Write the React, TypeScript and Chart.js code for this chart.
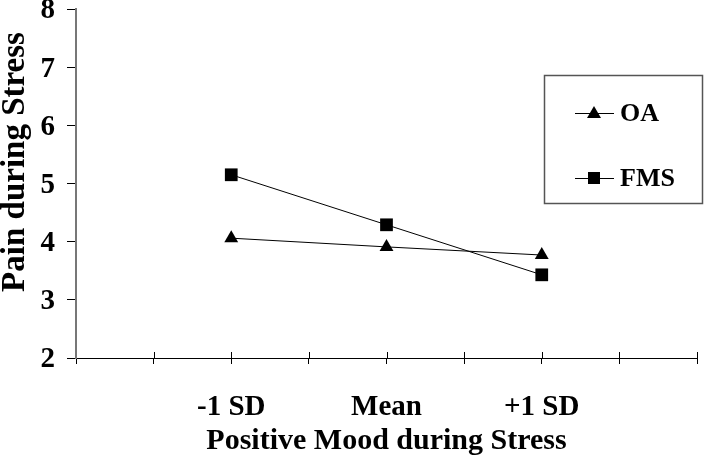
import React, { useEffect, useRef } from "react";
import { Chart, registerables } from "chart.js";

Chart.register(...registerables);

// Category positions on an 8-unit axis, with their labels
const categoryPositions = [2, 4, 6];
const categoryLabels = ["-1 SD", "Mean", "+1 SD"];

// Series values
const oaValues = [4.06, 3.91, 3.77];
const fmsValues = [5.15, 4.29, 3.43];

// Axis ranges / ticks
const yTicks = [2, 3, 4, 5, 6, 7, 8];
const xTickCount = 8;

const yTitle = "Pain during Stress";
const xTitle = "Positive Mood during Stress";

const SERIF = "'Liberation Serif', 'Times New Roman', serif";

const crossTicksPlugin = {
  id: "crossTicks",
  afterDatasetsDraw(chart: any) {
    const { ctx, scales } = chart;
    const x = scales.x;
    const yb = chart.chartArea.bottom;
    ctx.save();
    ctx.strokeStyle = "#000";
    ctx.lineWidth = 1;
    for (let v = 1; v <= xTickCount; v++) {
      const px = Math.round(x.getPixelForValue(v)) + 0.5;
      ctx.beginPath();
      ctx.moveTo(px, yb - 6);
      ctx.lineTo(px, yb);
      ctx.stroke();
    }
    ctx.restore();
  },
};

const yTitlePlugin = {
  id: "yTitle",
  afterDraw(chart: any) {
    const { ctx } = chart;
    ctx.save();
    ctx.translate(15, 162);
    ctx.rotate(-Math.PI / 2);
    ctx.font = `bold 33px ${SERIF}`;
    ctx.fillStyle = "#000";
    ctx.textAlign = "center";
    ctx.textBaseline = "middle";
    ctx.fillText(yTitle, 0, 0);
    ctx.restore();
  },
};

const boxLegendPlugin = {
  id: "boxLegend",
  afterDraw(chart: any) {
    const { ctx } = chart;
    ctx.save();
    ctx.strokeStyle = "#555";
    ctx.lineWidth = 1.5;
    ctx.strokeRect(544.5, 75.5, 158, 128);
    const rows = [113, 178];
    chart.data.datasets.forEach((ds: any, i: number) => {
      const y = rows[i];
      ctx.strokeStyle = "#000";
      ctx.lineWidth = 1;
      ctx.beginPath();
      ctx.moveTo(575, y + 0.5);
      ctx.lineTo(614, y + 0.5);
      ctx.stroke();
      ctx.fillStyle = "#000";
      if (ds.pointStyle === "triangle") {
        ctx.beginPath();
        ctx.moveTo(594, y - 7);
        ctx.lineTo(601, y + 5);
        ctx.lineTo(587, y + 5);
        ctx.closePath();
        ctx.fill();
      } else {
        ctx.fillRect(588, y - 6, 12, 12);
      }
      ctx.font = `bold 26px ${SERIF}`;
      ctx.textBaseline = "middle";
      ctx.textAlign = "left";
      ctx.fillText(ds.label, 620, y + 1);
    });
    ctx.restore();
  },
};

export default function App() {
  const ref = useRef<HTMLCanvasElement>(null);
  useEffect(() => {
    if (!ref.current) return;
    const chart = new Chart(ref.current, {
      type: "line",
      data: {
        datasets: [
          {
            label: "OA",
            data: categoryPositions.map((x, i) => ({ x, y: oaValues[i] })),
            borderColor: "#000",
            backgroundColor: "#000",
            borderWidth: 1,
            pointStyle: "triangle",
            pointRadius: 8,
            pointBorderWidth: 0,
            pointBackgroundColor: "#000",
          },
          {
            label: "FMS",
            data: categoryPositions.map((x, i) => ({ x, y: fmsValues[i] })),
            borderColor: "#000",
            backgroundColor: "#000",
            borderWidth: 1,
            pointStyle: "rect",
            pointRadius: 9,
            pointBorderWidth: 0,
            pointBackgroundColor: "#000",
          },
        ],
      },
      options: {
        responsive: false,
        animation: false,
        devicePixelRatio: 1,
        layout: { padding: { top: 9, right: 8, left: 0, bottom: 0 } },
        plugins: {
          legend: { display: false },
          tooltip: { enabled: false },
        },
        scales: {
          x: {
            type: "linear",
            min: 0,
            max: xTickCount,
            afterBuildTicks: (scale: any) => {
              scale.ticks = Array.from({ length: xTickCount + 1 }, (_, i) => ({ value: i }));
            },
            afterFit: (scale: any) => {
              scale.height = 105;
              scale.paddingLeft = 0;
              scale.paddingRight = 0;
            },
            grid: {
              drawOnChartArea: false,
              color: "#000",
              tickLength: 6,
              lineWidth: 1,
            },
            border: { color: "#000", width: 1 },
            ticks: {
              autoSkip: false,
              maxRotation: 0,
              padding: 26,
              color: "#000",
              font: { family: SERIF, size: 29, weight: "bold" },
              callback: (v: any) => {
                const idx = categoryPositions.indexOf(Number(v));
                return idx >= 0 ? categoryLabels[idx] : "";
              },
            },
            title: {
              display: true,
              text: xTitle,
              color: "#000",
              font: { family: SERIF, size: 30, weight: "bold", lineHeight: 1.2 },
              padding: { top: 0, bottom: 4 },
            },
          },
          y: {
            type: "linear",
            min: yTicks[0],
            max: yTicks[yTicks.length - 1],
            afterBuildTicks: (scale: any) => {
              scale.ticks = yTicks.map((v) => ({ value: v }));
            },
            afterFit: (scale: any) => {
              scale.width = 76;
              scale.paddingTop = 0;
              scale.paddingBottom = 0;
            },
            grid: {
              drawOnChartArea: false,
              color: "#000",
              tickLength: 9,
              lineWidth: 1,
            },
            border: { color: "#777", width: 2 },
            ticks: {
              padding: 12,
              labelOffset: 2,
              color: "#000",
              font: { family: SERIF, size: 29, weight: "bold" },
            },
          },
        },
      },
      plugins: [crossTicksPlugin, boxLegendPlugin, yTitlePlugin],
    });
    return () => chart.destroy();
  }, []);
  return (
    <div style={{ position: "fixed", left: 0, top: 0, width: 706, height: 463, background: "#fff" }}>
      <canvas ref={ref} width={706} height={463} />
    </div>
  );
}
